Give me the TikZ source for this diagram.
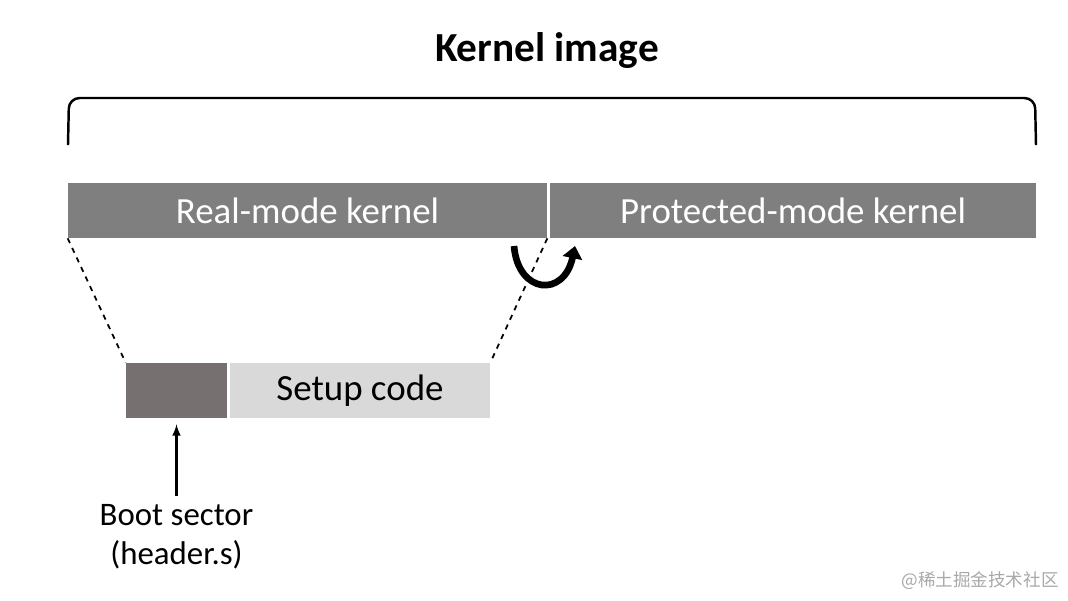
\documentclass[tikz,border=0pt]{standalone}
\usepackage{fontspec}
\setmainfont{Carlito}
\newfontfamily\cjk{Noto Sans CJK SC}
\usetikzlibrary{arrows.meta}

\definecolor{bargray}{HTML}{7F7F7F}
\definecolor{bootgray}{HTML}{767070}
\definecolor{setupgray}{HTML}{D9D9D9}
\definecolor{markgray}{HTML}{A8A8A8}

\begin{document}
\begin{tikzpicture}[
x=0.02cm,
y=-0.02cm,
bar/.style={
fill=bargray,
text=white,
minimum height=1.1cm,
inner sep=0pt,
font=\fontsize{21}{25}\selectfont
},
part/.style={
minimum height=1.1cm,
inner sep=0pt,
font=\fontsize{21}{25}\selectfont
}
]
\useasboundingbox (0,0) rectangle (1068,600);

\node[font=\fontsize{23.5}{28}\selectfont\bfseries] (K) at (547,51)
{Kernel image};

\node[bar, minimum width=9.58cm] (R) at (307.5,210.5)
{Real-mode kernel};

\node[bar, minimum width=9.72cm] (P) at (793,210.5)
{Protected-mode kernel};

\node[part, fill=bootgray, minimum width=2.02cm] (B) at (176.5,390.5)
{};

\node[part, fill=setupgray, minimum width=5.2cm] (S) at (360,390.5)
{Setup code};

\node[align=center, font=\fontsize{18.7}{22}\selectfont] (L) at (176.5,537)
{Boot sector\\(header.s)};

\node[text=markgray, font=\cjk\fontsize{10}{12}\selectfont] (W) at (980,581)
{@稀土掘金技术社区};

% brace over the image
\draw[line width=1.4pt, rounded corners=6] (68,145) -- (69,98) -- (1035,98) -- (1036,145);

\draw[dashed, line width=1pt] (R.south west) -- (B.north west);
\draw[dashed, line width=1pt] (R.south east) -- (S.north east);

\draw[-latex, line width=1.2pt] ([yshift=0.06cm]L.north) -- ([yshift=-0.12cm]B.south);

% jump to protected mode
\draw[line width=3.8pt, -{Triangle[width=11pt,length=7pt]}]
(514,246) .. controls (518,294) and (564,298) .. (575,246);

\end{tikzpicture}
\end{document}
